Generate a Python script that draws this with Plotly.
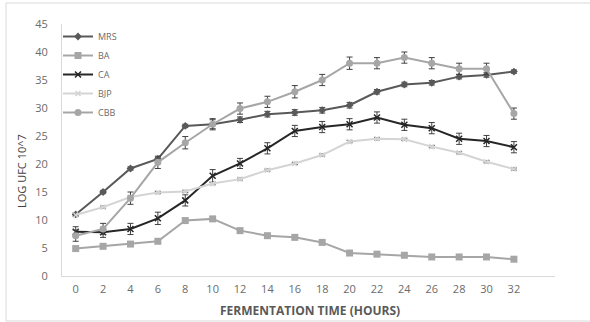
import plotly.graph_objects as go

hours = [0, 2, 4, 6, 8, 10, 12, 14, 16, 18, 20, 22, 24, 26, 28, 30, 32]
x_ticks = [str(h) for h in hours]
y_ticks = [0, 5, 10, 15, 20, 25, 30, 35, 40, 45]

mrs = [11.0, 15.0, 19.2, 20.9, 26.8, 27.1, 27.9, 28.9, 29.2, 29.6, 30.5, 32.9, 34.2, 34.5, 35.6, 35.9, 36.5]
mrs_err = [0.3, 0.3, 0.3, 0.3, 0.3, 0.8, 0.5, 0.5, 0.5, 0.5, 0.5, 0.4, 0.4, 0.4, 0.4, 0.4, 0.3]

ba = [4.9, 5.3, 5.7, 6.2, 9.9, 10.2, 8.1, 7.2, 6.9, 6.0, 4.1, 3.9, 3.7, 3.4, 3.4, 3.4, 3.0]

ca = [7.9, 7.8, 8.4, 10.3, 13.5, 17.9, 20.1, 22.8, 25.9, 26.6, 27.1, 28.3, 27.0, 26.4, 24.5, 24.1, 23.0]
ca_err = [0.9, 0.9, 1.0, 1.1, 1.0, 1.1, 0.9, 1.0, 1.0, 1.0, 1.0, 1.0, 1.0, 1.0, 1.0, 1.0, 1.0]

bjp = [10.9, 12.3, 14.1, 14.9, 15.1, 16.5, 17.3, 18.9, 20.1, 21.6, 24.0, 24.5, 24.4, 23.1, 22.0, 20.4, 19.1]
bjp_err = [0.2] * 17

cbb = [7.2, 8.4, 13.9, 20.3, 23.8, 27.1, 29.9, 31.1, 32.9, 35.0, 38.0, 38.0, 39.0, 38.0, 37.0, 37.0, 29.0]
cbb_err = [1.0, 1.0, 1.1, 1.1, 1.1, 1.0, 1.0, 1.0, 1.1, 1.0, 1.1, 1.0, 1.0, 1.0, 1.0, 1.0, 1.0]

FONT = "Open Sans"
ERR = dict(type="data", thickness=1, width=3, color="#404040")

fig = go.Figure()

def add(name, y, err, color, symbol, size, lw=2, mline=None):
    kw = dict(symbol=symbol, size=size, color=color)
    if mline:
        kw["line"] = dict(color=color, width=mline)
    e = dict(ERR, array=err, visible=True) if err is not None else dict(visible=False)
    fig.add_trace(go.Scatter(
        x=hours, y=y, name=name, mode="lines+markers",
        line=dict(color=color, width=lw), marker=kw, error_y=e,
    ))

add("MRS", mrs, mrs_err, "#595959", "diamond", 6)
add("BA", ba, None, "#a6a6a6", "square", 7)
add("CA", ca, ca_err, "#262626", "x-thin", 6, mline=1.5)
add("BJP", bjp, bjp_err, "#d4d4d4", "x-thin", 5, mline=1.5)
add("CBB", cbb, cbb_err, "#a6a6a6", "circle", 7)

# plot area pixels: x 62..555, y 24..276
W, H = 590, 322
L, R, T, B = 62, 35, 24, 46
pw, ph = W - L - R, H - T - B

def px(x):
    return (x - L) / pw

def py(y):
    return (H - B - y) / ph

fig.update_layout(
    width=W, height=H,
    margin=dict(l=L, r=R, t=T, b=B),
    paper_bgcolor="white", plot_bgcolor="white",
    font=dict(family=FONT, color="#6b6b6b", size=11),
    showlegend=True,
    legend=dict(
        x=px(58), y=py(22), xanchor="left", yanchor="top",
        font=dict(size=9, color="#6b6b6b"),
        bgcolor="rgba(0,0,0,0)", tracegroupgap=0,
        itemwidth=30,
    ),
    xaxis=dict(
        range=[-1, 35], tickmode="array", tickvals=hours, ticktext=x_ticks,
        showgrid=False, zeroline=False, showline=True, linecolor="#d9d9d9",
        linewidth=1, ticks="", tickfont=dict(size=11, color="#6b6b6b"),
        ticklabelstandoff=3,
    ),
    yaxis=dict(
        range=[0, 45], tickmode="array", tickvals=y_ticks,
        showgrid=False, zeroline=False, showline=True, linecolor="#d9d9d9",
        linewidth=1, ticks="", tickfont=dict(size=11, color="#6b6b6b"),
        ticklabelstandoff=11,
    ),
    shapes=[dict(type="rect", xref="paper", yref="paper",
                 x0=px(6), x1=px(600), y0=py(321), y1=py(3),
                 line=dict(color="#d9d9d9", width=1), layer="below")],
    annotations=[
        dict(text="LOG UFC 10^7", xref="paper", yref="paper",
             x=px(22), y=py(171), textangle=-90, showarrow=False,
             xanchor="center", yanchor="middle",
             font=dict(size=11, color="#404040", family=FONT)),
        dict(text="<b>FERMENTATION TIME (HOURS)</b>", xref="paper", yref="paper",
             x=px(310), y=py(310), showarrow=False,
             xanchor="center", yanchor="middle",
             font=dict(size=12, color="#595959", family=FONT)),
    ],
)

fig.write_html("out.html", config={"displayModeBar": False},
               post_script="document.body.style.margin='0';document.body.style.overflow='hidden';")
